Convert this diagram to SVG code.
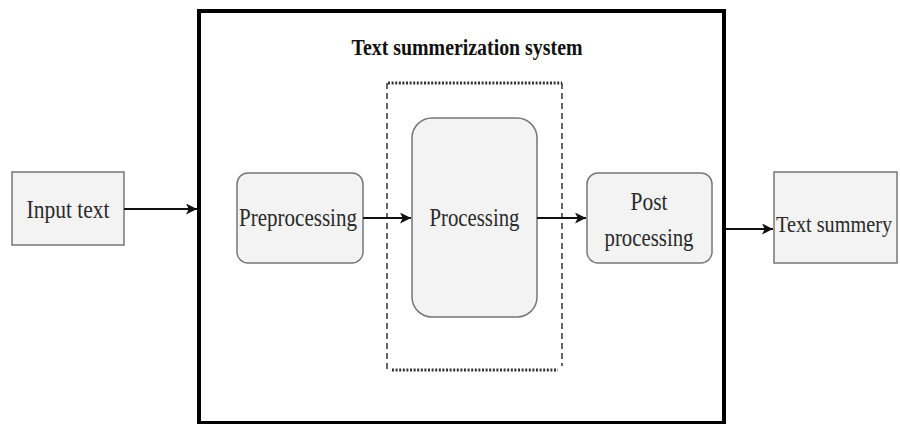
<svg xmlns="http://www.w3.org/2000/svg" width="900" height="424" viewBox="0 0 900 424">
<defs>
<marker id="ah" viewBox="0 0 10 10" refX="10" refY="5" markerWidth="11" markerHeight="11" markerUnits="userSpaceOnUse" orient="auto">
<path d="M0,0 L10,5 L0,10 L2.5,5 Z" fill="#111"/>
</marker>
<style>
.box{fill:#f3f3f3;stroke:#777;stroke-width:1.5}
.lbl{font-family:"Liberation Serif",serif;font-size:25px;fill:#2a2a2a;text-anchor:middle}
.title{font-family:"Liberation Serif",serif;font-size:24px;font-weight:bold;fill:#111;text-anchor:middle}
.conn{stroke:#111;stroke-width:2;fill:none;marker-end:url(#ah)}
.dot{stroke:#333;stroke-width:3;stroke-dasharray:2 1.6;fill:none}
.dash{stroke:#333;stroke-width:1.5;stroke-dasharray:6 4;fill:none}
</style>
</defs>
<rect width="900" height="424" fill="#fff"/>
<g id="system">
<rect x="199" y="11" width="525" height="412" fill="#fff" stroke="#000" stroke-width="4"/>
<text class="title" x="467" y="55" textLength="231" lengthAdjust="spacingAndGlyphs">Text summerization system</text>
</g>
<g id="processing-group">
<line class="dot" x1="388" y1="83" x2="562" y2="83"/>
<line class="dot" x1="392" y1="370" x2="558" y2="370"/>
<line class="dash" x1="387" y1="83" x2="387" y2="371"/>
<line class="dash" x1="562" y1="83" x2="562" y2="366"/>
</g>
<g id="input">
<rect class="box" x="12" y="172" width="112" height="73"/>
<text class="lbl" x="68" y="218" textLength="83" lengthAdjust="spacingAndGlyphs">Input text</text>
</g>
<g id="preprocessing">
<rect class="box" x="237" y="173" width="126" height="90" rx="11"/>
<text class="lbl" x="298" y="226" textLength="118" lengthAdjust="spacingAndGlyphs">Preprocessing</text>
</g>
<g id="processing">
<rect class="box" x="412" y="118" width="125" height="199" rx="20"/>
<text class="lbl" x="474.5" y="226" textLength="90" lengthAdjust="spacingAndGlyphs">Processing</text>
</g>
<g id="postprocessing">
<rect class="box" x="587" y="173" width="125" height="90" rx="11"/>
<text class="lbl" x="649" y="210" textLength="37" lengthAdjust="spacingAndGlyphs">Post</text>
<text class="lbl" x="649" y="246" textLength="89" lengthAdjust="spacingAndGlyphs">processing</text>
</g>
<g id="summary">
<rect class="box" x="774" y="172" width="123" height="91"/>
<text class="lbl" x="834" y="232" style="font-size:24px" textLength="116" lengthAdjust="spacingAndGlyphs">Text summery</text>
</g>
<g id="connectors">
<path class="conn" d="M124,209 H197"/>
<path class="conn" d="M363,218 H411"/>
<path class="conn" d="M537,218 H586"/>
<path class="conn" d="M726,229 H773"/>
</g>
</svg>
